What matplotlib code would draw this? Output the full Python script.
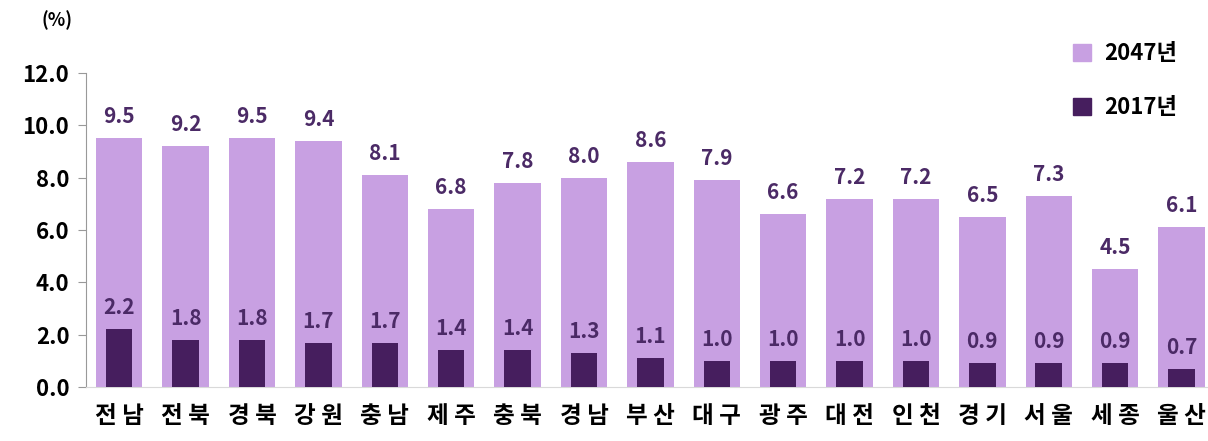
import matplotlib.pyplot as plt
from matplotlib.patches import Patch

plt.rcParams['font.family'] = ['Noto Sans CJK KR', 'DejaVu Sans']

regions = ['전 남', '전 북', '경 북', '강 원', '충 남', '제 주', '충 북', '경 남', '부 산',
           '대 구', '광 주', '대 전', '인 천', '경 기', '서 울', '세 종', '울 산']
v2047 = [9.5, 9.2, 9.5, 9.4, 8.1, 6.8, 7.8, 8.0, 8.6, 7.9, 6.6, 7.2, 7.2, 6.5, 7.3, 4.5, 6.1]
v2017 = [2.2, 1.8, 1.8, 1.7, 1.7, 1.4, 1.4, 1.3, 1.1, 1.0, 1.0, 1.0, 1.0, 0.9, 0.9, 0.9, 0.7]

light = '#c8a0e2'
dark = '#461e5e'
txt = '#4b2a66'
w = 'bold'

fig = plt.figure(figsize=(12.08, 4.41), dpi=100)
ax = fig.add_axes([0.0712, 0.1224, 0.93, 0.712])

x = list(range(len(regions)))
ax.bar(x, v2047, width=0.7, color=light, zorder=2)
ax.bar(x, v2017, width=0.4, color=dark, zorder=3)

for i in x:
    ax.text(i, v2047[i] + 0.42, f'{v2047[i]:.1f}', ha='center', va='bottom',
            fontsize=15, fontweight=w, color=txt)
    ax.text(i, v2017[i] + 0.42, f'{v2017[i]:.1f}', ha='center', va='bottom',
            fontsize=15, fontweight=w, color=txt)

ax.set_xlim(-0.5, 16.42)
ax.set_ylim(0, 12)
ax.set_yticks([0, 2, 4, 6, 8, 10, 12])
ax.set_yticklabels([f'{t:.1f}' for t in [0, 2, 4, 6, 8, 10, 12]],
                   fontsize=16, fontweight=w)
ax.set_xticks(x)
ax.set_xticklabels(regions, fontsize=17, fontweight=w)
ax.tick_params(axis='x', length=0, pad=12)
ax.tick_params(axis='y', length=6, color='#999999', pad=6)

for s in ['top', 'right']:
    ax.spines[s].set_visible(False)
ax.spines['left'].set_color('#999999')
ax.spines['bottom'].set_color('#d9d9d9')

fig.text(0.034, 0.955, '(%)', fontsize=13, fontweight=w, va='center')

handles = [Patch(color=light), Patch(color=dark)]
fig.legend(handles, ['2047년', '2017년'], loc='upper left', bbox_to_anchor=(0.872, 0.95),
           frameon=False, prop={'size': 16, 'weight': w}, labelspacing=1.4,
           handlelength=0.8, handleheight=0.8, handletextpad=0.6)

fig.savefig('out.png')
